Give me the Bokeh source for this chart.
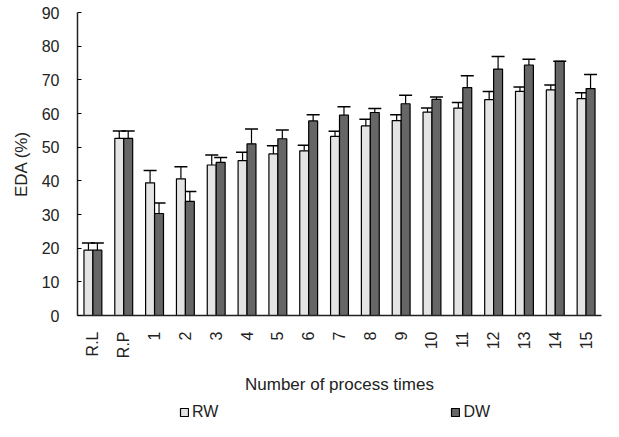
import math
from bokeh.plotting import figure
from bokeh.layouts import column
from bokeh.models import (ColumnDataSource, FactorRange, Whisker, TeeHead, Legend,
                          LegendItem, FixedTicker)
from bokeh.transform import dodge
from bokeh.embed import file_html
from bokeh.resources import INLINE

categories = ["R.L", "R.P", "1", "2", "3", "4", "5", "6", "7", "8", "9",
              "10", "11", "12", "13", "14", "15"]
rw = [19.4, 52.6, 39.4, 40.6, 44.7, 46.0, 48.0, 48.9, 53.2, 56.3, 57.9,
      60.4, 61.6, 64.1, 66.6, 67.0, 64.4]
rw_err = [2.1, 2.2, 3.7, 3.6, 3.0, 2.5, 2.4, 1.7, 1.5, 2.0, 1.7,
          1.2, 1.7, 2.4, 1.3, 1.5, 1.8]
dw = [19.4, 52.6, 30.3, 33.9, 45.5, 51.0, 52.5, 57.8, 59.5, 60.3, 62.9,
      64.2, 67.7, 73.2, 74.4, 75.5, 67.4]
dw_err = [2.1, 2.2, 3.1, 2.9, 1.4, 4.4, 2.6, 1.8, 2.5, 1.2, 2.5,
          0.7, 3.5, 3.7, 1.7, 0.0, 4.2]
y_ticks = [0, 10, 20, 30, 40, 50, 60, 70, 80, 90]
series = ["RW", "DW"]

src = ColumnDataSource(dict(
    cat=categories, rw=rw, dw=dw,
    rw_up=[v + e for v, e in zip(rw, rw_err)],
    dw_up=[v + e for v, e in zip(dw, dw_err)],
))

FONT = "Liberation Sans"
TXT = "#222222"
RW_FILL = "#e4e4e4"
DW_FILL = "#666666"

p = figure(width=603, height=401, x_range=FactorRange(*categories),
           y_range=(0, 90), output_backend="svg", toolbar_location=None,
           min_border_left=77, min_border_right=2, min_border_top=12,
           min_border_bottom=86)
p.outline_line_color = None
p.grid.grid_line_color = None
p.background_fill_color = "white"

off = 0.145
w = 0.29
p.vbar(x=dodge("cat", -off, range=p.x_range), top="rw", width=w, source=src,
       fill_color=RW_FILL, line_color="black", line_width=1.2)
p.vbar(x=dodge("cat", off, range=p.x_range), top="dw", width=w, source=src,
       fill_color=DW_FILL, line_color="black", line_width=1.2)

for field, up in ((-off, "rw_up"), (off, "dw_up")):
    wk = Whisker(base=dodge("cat", field, range=p.x_range), lower=up[:2],
                 upper=up, source=src, line_color="black", line_width=1.2,
                 lower_head=None,
                 upper_head=TeeHead(size=13, line_color="black", line_width=1.5))
    p.add_layout(wk)

p.yaxis.ticker = FixedTicker(ticks=y_ticks)
p.yaxis.major_tick_in = 4
p.yaxis.major_tick_out = 0
p.yaxis.minor_tick_line_color = None
p.yaxis.major_label_standoff = 18
p.yaxis.axis_label = "EDA (%)"
p.yaxis.axis_label_standoff = 8

p.xaxis.major_tick_line_color = None
p.xaxis.major_label_orientation = math.pi / 2
p.xaxis.major_label_standoff = 10
p.xaxis.axis_label = "Number of process times"
p.xaxis.axis_label_standoff = 14

for ax in (p.xaxis[0], p.yaxis[0]):
    ax.axis_line_color = "#222222"
    ax.axis_line_width = 1.5
    ax.major_label_text_font = FONT
    ax.major_label_text_font_size = "16px"
    ax.major_label_text_color = TXT
    ax.axis_label_text_font = FONT
    ax.axis_label_text_font_size = "17px"
    ax.axis_label_text_font_style = "normal"
    ax.axis_label_text_color = TXT

# legend strip below the chart (legend-only proxy renderers, no visible marks)
lg = figure(width=603, height=20, x_range=(0, 1), y_range=(0, 1),
            output_backend="svg", toolbar_location=None, min_border=0,
            x_axis_location=None, y_axis_location=None)
lg.grid.grid_line_color = None
lg.outline_line_color = None
nan = float("nan")
k1 = lg.vbar(x=[nan], top=[nan], width=0.1, fill_color=RW_FILL,
             line_color="black", line_width=1.2)
k2 = lg.vbar(x=[nan], top=[nan], width=0.1, fill_color=DW_FILL,
             line_color="black", line_width=1.2)
legend = Legend(items=[LegendItem(label=series[0], renderers=[k1]),
                       LegendItem(label=series[1], renderers=[k2])],
                orientation="horizontal", location=(102, 0),
                spacing=232, glyph_width=10, glyph_height=10,
                label_standoff=3, padding=0, margin=0, label_height=14,
                label_text_font=FONT, label_text_font_size="16px",
                label_text_color=TXT, border_line_color=None,
                background_fill_alpha=0)
lg.add_layout(legend, "center")

open("out.html", "w").write(file_html(column(p, lg), INLINE))
